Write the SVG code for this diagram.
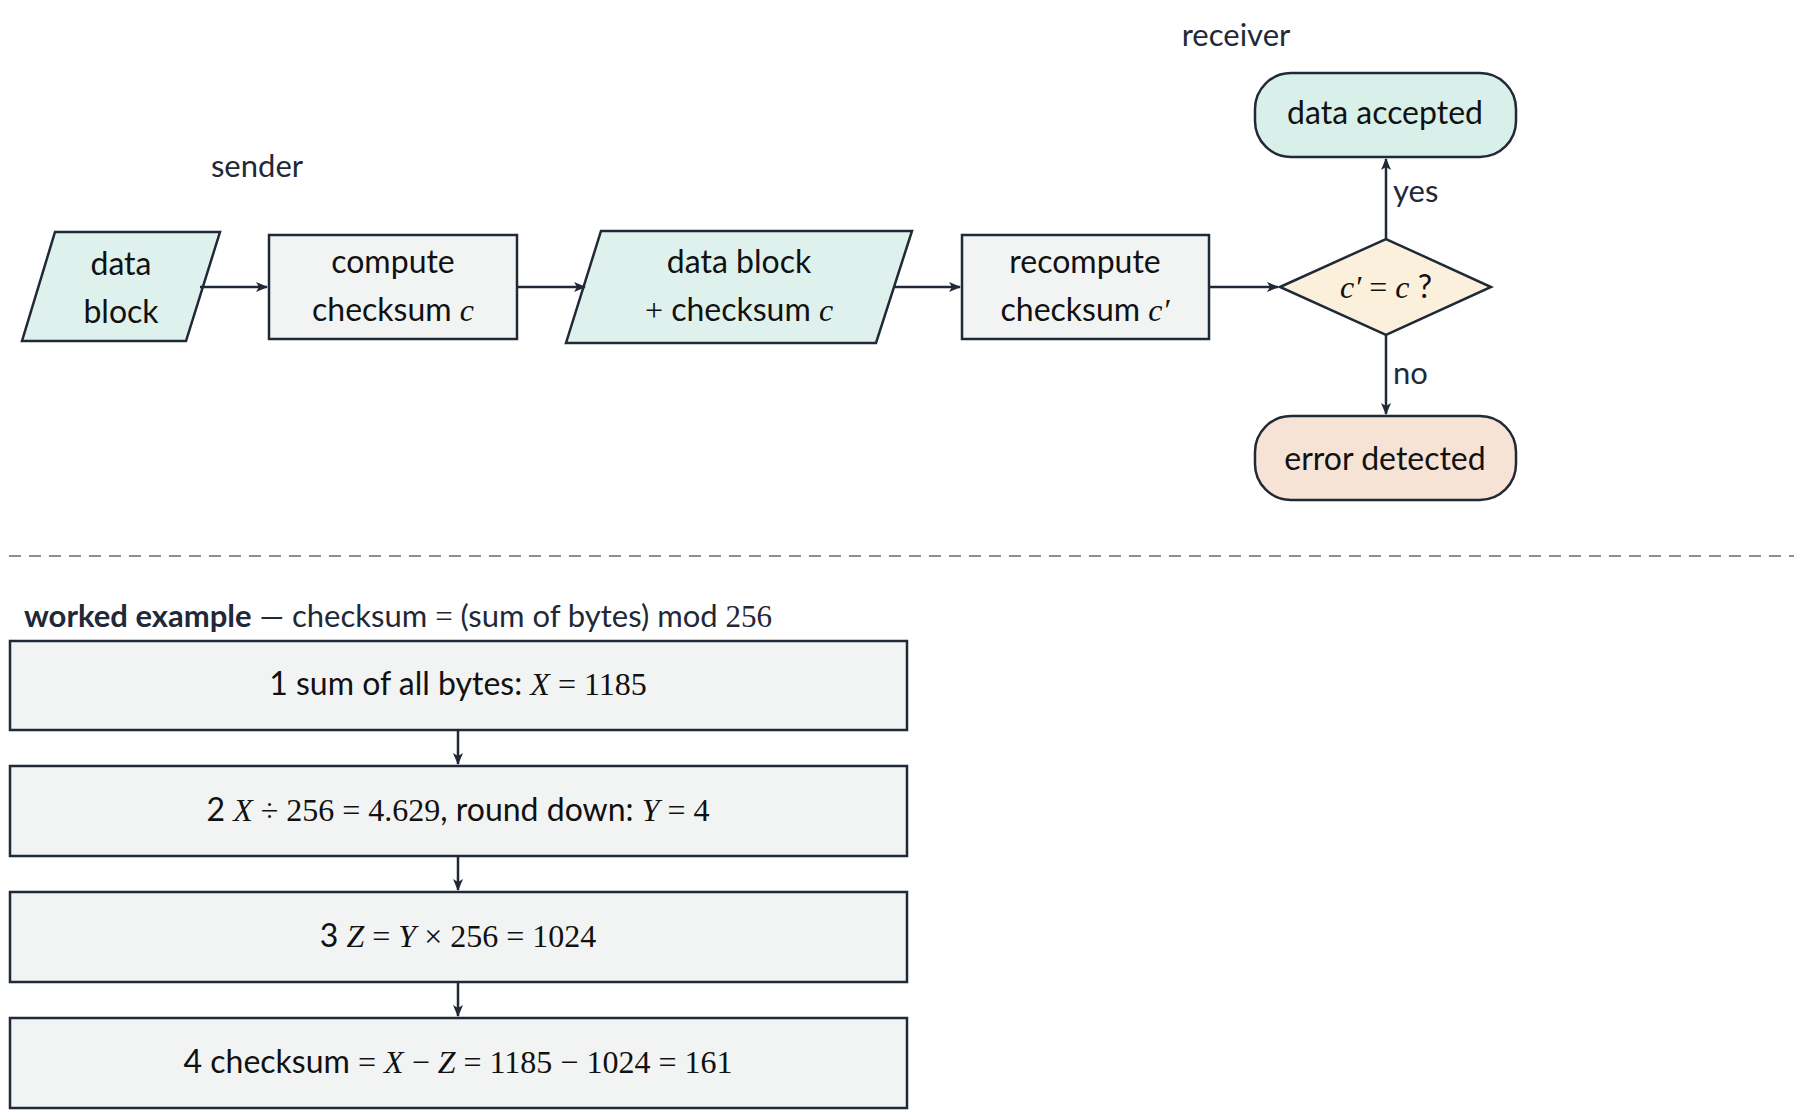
<svg xmlns="http://www.w3.org/2000/svg" width="1800" height="1111" viewBox="0 0 1800 1111">
<defs>
<marker id="ar" viewBox="0 0 12 10" refX="11" refY="5" markerWidth="12" markerHeight="10" markerUnits="userSpaceOnUse" orient="auto"><path d="M0,0 L12,5 L0,10 L3,5 Z" fill="#1f2937"/></marker>
<style>
text{font-family:"Lato","Noto Sans",sans-serif;font-size:32px;fill:#111;text-anchor:middle}
.m{font-family:"Liberation Serif",serif;font-style:italic}
.n{font-family:"Liberation Serif",serif;font-style:normal}
.lb{fill:#1f2937;font-size:31px}
.s{stroke:#1f2937;stroke-width:2.5}
.teal{fill:#dff1ed}.grey{fill:#f2f4f3}.beige{fill:#fbf0db}.peach{fill:#f7e3d6}
.c{stroke:#1f2937;stroke-width:2.5;fill:none;marker-end:url(#ar)}
</style>
</defs>
<text class="lb" x="257" y="177">sender</text>
<text class="lb" x="1236" y="46">receiver</text>
<g id="n1"><polygon class="s teal" points="55,232 220,232 186,341 22,341"/><text x="121" y="275">data</text><text x="121" y="323">block</text></g>
<g id="n2"><rect class="s grey" x="269" y="235" width="248" height="104"/><text x="393" y="273">compute</text><text x="393" y="321">checksum <tspan class="m">c</tspan></text></g>
<g id="n3"><polygon class="s teal" points="601,231 912,231 876,343 566,343"/><text x="739" y="273">data block</text><text x="739" y="321"><tspan class="n">+</tspan> checksum <tspan class="m">c</tspan></text></g>
<g id="n4"><rect class="s grey" x="962" y="235" width="247" height="104"/><text x="1085" y="273">recompute</text><text x="1085" y="321">checksum <tspan class="m">c′</tspan></text></g>
<g id="n5"><polygon class="s beige" points="1280,287 1386,239 1491,287 1386,335"/><text x="1386" y="298"><tspan class="m">c′</tspan><tspan class="n"> = </tspan><tspan class="m">c</tspan> ?</text></g>
<g id="n6"><rect class="s teal" x="1255" y="73" width="261" height="84" rx="36" style="fill:#d9efea"/><text x="1385" y="124">data accepted</text></g>
<g id="n7"><rect class="s peach" x="1255" y="416" width="261" height="84" rx="36"/><text x="1385" y="470">error detected</text></g>
<g id="connectors">
<line class="c" x1="200" y1="287" x2="267" y2="287"/>
<line class="c" x1="517" y1="287" x2="585" y2="287"/>
<line class="c" x1="894" y1="287" x2="960" y2="287"/>
<line class="c" x1="1209" y1="287" x2="1278" y2="287"/>
<line class="c" x1="1386" y1="239" x2="1386" y2="159"/>
<line class="c" x1="1386" y1="335" x2="1386" y2="414"/>
<line class="c" x1="458" y1="730" x2="458" y2="764"/>
<line class="c" x1="458" y1="856" x2="458" y2="890"/>
<line class="c" x1="458" y1="982" x2="458" y2="1016"/>
</g>
<text class="lb" x="1393" y="202" style="text-anchor:start">yes</text>
<text class="lb" x="1393" y="384" style="text-anchor:start">no</text>
<line x1="9" y1="556" x2="1794" y2="556" stroke="#8a8f96" stroke-width="2" stroke-dasharray="12,8"/>
<text class="lb" x="24" y="627" style="text-anchor:start"><tspan font-weight="bold">worked example</tspan> — checksum <tspan class="n">=</tspan> (sum of bytes) mod <tspan class="n">256</tspan></text>
<g id="s1"><rect class="s grey" x="10" y="641" width="897" height="89"/><text x="458" y="695">1   sum of all bytes:  <tspan class="m">X</tspan><tspan class="n"> = 1185</tspan></text></g>
<g id="s2"><rect class="s grey" x="10" y="766" width="897" height="90"/><text x="458" y="821">2   <tspan class="m">X</tspan><tspan class="n"> ÷ 256 = 4.629</tspan>, round down:  <tspan class="m">Y</tspan><tspan class="n"> = 4</tspan></text></g>
<g id="s3"><rect class="s grey" x="10" y="892" width="897" height="90"/><text x="458" y="947">3   <tspan class="m">Z</tspan><tspan class="n"> = </tspan><tspan class="m">Y</tspan><tspan class="n"> × 256 = 1024</tspan></text></g>
<g id="s4"><rect class="s grey" x="10" y="1018" width="897" height="90"/><text x="458" y="1073">4   checksum <tspan class="n">= </tspan><tspan class="m">X</tspan><tspan class="n"> − </tspan><tspan class="m">Z</tspan><tspan class="n"> = 1185 − 1024 = 161</tspan></text></g>
</svg>
